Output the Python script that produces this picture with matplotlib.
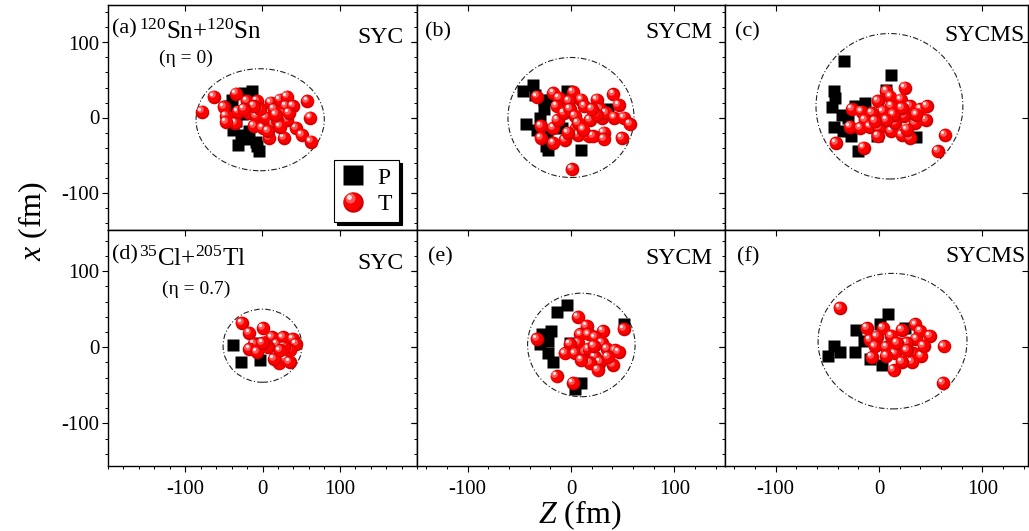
import numpy as np
import matplotlib
matplotlib.use('Agg')
import matplotlib.pyplot as plt
from matplotlib.patches import Ellipse
from matplotlib.lines import Line2D
from matplotlib.transforms import offset_copy
from matplotlib.legend_handler import HandlerBase
from matplotlib.ticker import MultipleLocator

plt.rcParams['font.family'] = ['Liberation Serif', 'DejaVu Serif']
plt.rcParams['mathtext.fontset'] = 'custom'
plt.rcParams['mathtext.rm'] = 'Liberation Serif'
plt.rcParams['mathtext.it'] = 'Liberation Serif:italic'
plt.rcParams['axes.unicode_minus'] = False

panel_tags = ['(a)', '(b)', '(c)', '(d)', '(e)', '(f)']
model_names = ['SYC', 'SYCM', 'SYCMS', 'SYC', 'SYCM', 'SYCMS']
reactions = [r'$^{120}$Sn+$^{120}$Sn', r'$^{35}$Cl+$^{205}$Tl']
asymmetry = ['(η = 0)', '(η = 0.7)']

# projectile nucleons (P), Z and x in fm
p_z_a = [-32, -5, -24, -13, -43, -38, -20, -9, -28, -17, -39, -16, -7, -27, -34]
p_x_a = [-36, -44, 33, 35, 15, -16, -29, -32, -23, -18, 24, 24, -38, 5, -5]
p_z_b = [-46, -37, -44, 10, -22, -26, -26, -30, -23, -19, -4, -9, -24, -33, 36, -35]
p_x_b = [36, 44, -8, -43, -43, 24, 11, 0, -25, 24, 35, -14, -38, -16, 11, 30]
p_z_c = [-34, 12, -44, -43, -46, -44, -35, -36, -14, -20, 36, -2, -23, 7, -27, -30]
p_x_c = [75, 56, 35, 26, 14, -12, -18, 4, 20, -45, -26, -25, 15, 37, -25, 0]
p_z_d = [-38, -28, -3, -7]
p_x_d = [3, -20, -17, 6]
p_z_e = [-14, -4, -28, -19, -22, -30, -22, -17, -1, 10, 4, 51]
p_x_e = [46, 56, 17, 21, 8, 4, -8, -19, 6, -47, -55, 30]
p_z_f = [9, -44, -49, -38, -23, -22, 1, 3, -9, -15, 25]
p_x_f = [44, 2, -11, -6, -6, 23, 30, -23, -15, 8, 25]

# target nucleons (T), Z and x in fm
t_z_a = [-78, -63, -34, -50, -47, -35, -47, -32, -20, -17, -7, -8, -11, 0, 4, 11, 15, 23, 32, 30,
         26, 15, 9, 28, 39, 43, 51, 58, 62, 63, 32, 19, 7, 23, -3, 17, 34, -11, -24]
t_x_a = [8, 28, 32, 14, 2, -7, -6, 8, 22, 6, 22, 2, -11, -14, 0, 20, 11, 24, 28, 15,
         4, -9, -27, -27, 15, -14, -23, 22, 0, -32, -3, -3, -18, -12, 11, 4, 6, 15, 11]
t_z_b = [-33, -17, -12, 2, -2, -14, -29, -17, -29, -17, -6, -13, -7, -1, 4, 5, 7, 10, 13, 18,
         17, 21, 25, 28, 30, 34, 32, 32, 41, 46, 42, 51, 57, 49, 1, 25, 20, 7, -3, 12]
t_x_b = [28, 33, 26, 34, 22, 15, -11, -14, -27, -34, -30, -3, 6, 11, 2, -14, -23, 24, 15, -3,
         -25, -25, 24, 11, 0, 6, -20, -29, 31, 17, 0, 0, -9, -27, -69, 4, 11, -7, -20, -16]
t_z_c = [25, 7, -1, 11, 21, 12, 4, -26, -17, -7, -14, -28, -18, -9, 0, -1, 12, 22, 30, 30,
         40, 46, 45, 35, 24, 15, 14, -42, -15, 64, 57, 7, 27, 36, 22, -4]
t_x_c = [40, 35, 22, 28, 24, 15, 8, 11, 8, 6, -3, -12, -14, -12, -14, -25, -18, -23, -27, 15,
         11, 15, -3, -7, 2, -7, 4, -34, -40, -23, -45, -3, -16, 4, 13, -5]
t_z_d = [-27, -17, 1, -11, -17, -7, 7, 12, 19, 26, 39, 43, 17, 22, 30, 35, 36, 7, 0, 28, 15, 23]
t_x_d = [32, 19, 25, 4, -2, -6, 8, 13, 4, 13, 11, 4, -8, -21, -15, -19, -4, 0, 6, 0, -15, -4]
t_z_e = [7, 15, 31, 51, -33, 9, 17, 7, -1, -6, 4, 14, 17, 23, 30, 35, 43, 46, 23, 28,
         41, 18, 26, -14, 2, 36, 10, 22]
t_x_e = [40, 28, 21, 24, 11, 17, 17, 6, 4, -8, -8, -6, -2, 13, 6, -2, -4, -6, -13, -19,
         -23, -21, -30, -38, -47, -13, -17, 2]
t_z_f = [-38, -12, -9, 4, -2, 12, 22, 35, 40, 49, 36, -4, -7, 7, 15, 22, 27, 33, 41, 32,
         22, 14, 63, 62, 7, 17, 27, 43]
t_x_f = [52, 25, 10, 25, 14, 15, 23, 30, 21, 15, 11, 1, -13, 0, -8, 4, 6, -8, -11, -19,
         -19, -30, 1, -47, -11, 6, -4, 2]

# dash-dot envelope: centre (Z, x) and half widths, fm
ring_z = [-3, 0, 10, 0, 10, 13]
ring_x = [-3, 0, 15, 2, 3, 8]
ring_w = [83, 61, 71, 51, 52, 72]
ring_h = [68, 80, 97, 48, 68, 89]

p_z = [p_z_a, p_z_b, p_z_c, p_z_d, p_z_e, p_z_f]
p_x = [p_x_a, p_x_b, p_x_c, p_x_d, p_x_e, p_x_f]
t_z = [t_z_a, t_z_b, t_z_c, t_z_d, t_z_e, t_z_f]
t_x = [t_x_a, t_x_b, t_x_c, t_x_d, t_x_e, t_x_f]

# shaded ball: (size pt, colour, dx pt, dy pt)
ball_layers = [(9.8, '#d20000', 0, 0), (8.3, '#ff0000', -0.4, 0.4),
               (4.8, '#ff5a5a', -1.5, 1.5), (2.3, '#ffe8e8', -2.0, 2.0)]


class HandlerBall(HandlerBase):
    def create_artists(self, legend, orig_handle, xdescent, ydescent,
                       width, height, fontsize, trans):
        cx = width / 2 - xdescent
        cy = height / 2 - ydescent
        s = 1.5
        arts = []
        for ms, c, dx, dy in ball_layers:
            ln = Line2D([cx + dx * s], [cy + dy * s], marker='o', ms=ms * s,
                        color=c, mec='none', ls='none')
            ln.set_transform(trans)
            arts.append(ln)
        return arts


W, H = 1029, 531
fig = plt.figure(figsize=(W / 100, H / 100), dpi=100)

cols = [(108, 309, (-200, 200)), (417, 308, (-149, 149)), (725, 303, (-149, 144))]
rows = [(5, 225, (-150, 150)), (230, 236, (-156, 154))]

tag_x = [0.013, 0.026, 0.033, 0.013, 0.036, 0.040]
tag_y = [0.875, 0.862, 0.862, 0.875, 0.868, 0.868]
name_x = [0.955, 0.958, 0.99, 0.955, 0.96, 0.993]
name_y = [0.833, 0.853, 0.842, 0.835, 0.856, 0.866]

axes = []
for r, (top, hgt, yl) in enumerate(rows):
    for c, (left, wid, xl) in enumerate(cols):
        k = r * 3 + c
        ax = fig.add_axes((left / W, 1 - (top + hgt) / H, wid / W, hgt / H))
        axes.append(ax)
        ax.set_xlim(*xl)
        ax.set_ylim(*yl)
        for sp in ax.spines.values():
            sp.set_linewidth(1.0)
        ax.set_xticks([-100, 0, 100])
        ax.set_yticks([-100, 0, 100])
        ax.xaxis.set_minor_locator(MultipleLocator(20))
        ax.yaxis.set_minor_locator(MultipleLocator(20))
        ax.tick_params(which='major', direction='out', length=4, width=0.8,
                       labelsize=15, pad=2)
        ax.tick_params(which='minor', direction='out', length=2.5, width=0.7)
        ax.tick_params(axis='x', pad=6)
        if r == 0:
            ax.tick_params(axis='x', labelbottom=False)
        if c > 0:
            ax.tick_params(axis='y', labelleft=False)
        sx = ax.secondary_xaxis('top')
        sx.set_xticks([-100, 0, 100])
        sx.tick_params(direction='in', length=4, width=0.8, labeltop=False)
        sy = ax.secondary_yaxis('right')
        sy.set_yticks([-100, 0, 100])
        sy.tick_params(direction='in', length=4, width=0.8, labelright=False)

        ax.add_patch(Ellipse((ring_z[k], ring_x[k]), 2 * ring_w[k], 2 * ring_h[k],
                             fill=False, ec='#222222', lw=0.8,
                             ls=(0, (5, 2, 1, 2)), zorder=2))

        ax.plot(p_z[k], p_x[k], 's', ms=9, color='black', mec='none', zorder=2.5)

        trs = [offset_copy(ax.transData, fig=fig, x=dx, y=dy, units='points')
               for _, _, dx, dy in ball_layers]
        for i, (zz, xx) in enumerate(zip(t_z[k], t_x[k])):
            for j, (ms, col, dx, dy) in enumerate(ball_layers):
                ax.plot([zz], [xx], 'o', ms=ms, color=col, mec='none',
                        transform=trs[j], zorder=3 + i * 0.01 + j * 0.001)

        ax.text(tag_x[k], tag_y[k], panel_tags[k], transform=ax.transAxes,
                fontsize=16, ha='left', va='baseline')
        ax.text(name_x[k], name_y[k], model_names[k], transform=ax.transAxes,
                fontsize=17, ha='right', va='baseline')
        if c == 0:
            ax.text(0.10, tag_y[k] - 0.028, reactions[r], transform=ax.transAxes,
                    fontsize=18, ha='left', va='baseline')
            ax.text(0.251 if r == 0 else 0.286, 0.764 if r == 0 else 0.75,
                    asymmetry[r], transform=ax.transAxes, fontsize=14,
                    ha='center', va='center')

# legend in panel (a)
p_handle = Line2D([], [], marker='s', ms=14, color='black', mec='none', ls='none')
t_handle = Line2D([], [], marker='o', ms=15, color='red', ls='none')
leg = axes[0].legend([p_handle, t_handle], ['P', 'T'],
                     handler_map={t_handle: HandlerBall()},
                     loc='lower right', bbox_to_anchor=(0.942, 0.036),
                     borderaxespad=0, fontsize=17, frameon=True, fancybox=False,
                     framealpha=1, edgecolor='black',
                     shadow={'color': 'black', 'alpha': 1},
                     handlelength=1.0, handletextpad=0.55, labelspacing=0.2,
                     borderpad=0.3)
leg.get_frame().set_linewidth(0.8)
leg.set_zorder(10)

fig.text(33 / W, 1 - 221 / H, r'$x$ (fm)', rotation=90, fontsize=23,
         ha='center', va='center')
fig.text(580 / W, 1 - 515 / H, r'$Z$ (fm)', fontsize=23, ha='center', va='center')

fig.savefig('out.png', dpi=100)
